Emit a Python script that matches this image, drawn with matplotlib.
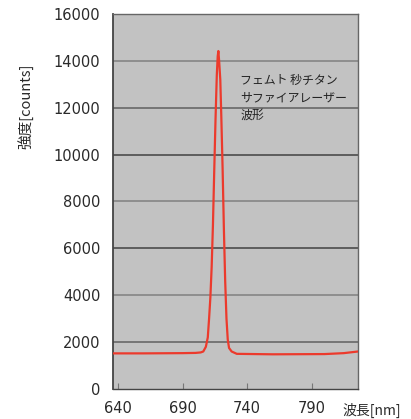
import matplotlib
matplotlib.use('Agg')
import matplotlib.pyplot as plt

plt.rcParams['font.family'] = ['DejaVu Sans', 'Noto Sans CJK JP']

# spectrum
wavelength = [636, 660, 690, 700, 704, 706, 708, 709.5, 710.5, 711.5, 712.5, 713.5,
              714.5, 715.5, 716.5, 717.2, 717.7, 718.3, 719.2, 720, 721, 722, 723,
              724, 725, 726, 728, 732, 760, 800, 815, 826]
counts = [1520, 1520, 1530, 1540, 1560, 1600, 1800, 2200, 3000, 3900, 5200, 7000,
          9300, 11500, 13400, 14200, 14420, 14000, 13200, 11600, 9400, 6800, 4600,
          3000, 2100, 1750, 1600, 1500, 1480, 1490, 1530, 1600]

x_ticks = [640, 690, 740, 790]
y_ticks = [0, 2000, 4000, 6000, 8000, 10000, 12000, 14000, 16000]
grid_colors = ['#6e6e6e', '#8a8a8a', '#555555', '#8a8a8a', '#555555', '#6e6e6e', '#8a8a8a']

fig = plt.figure(figsize=(4.11, 4.19), dpi=100)
ax = fig.add_axes([0.275, 0.0716, 0.596, 0.895])
ax.set_facecolor('#c2c2c2')

for yv, c in zip(y_ticks[1:-1], grid_colors):
    ax.axhline(yv, color=c, lw=1.3, zorder=1)

ax.plot(wavelength, counts, color='#ec3a2c', lw=1.6, zorder=3)

ax.set_xlim(636, 826)
ax.set_ylim(0, 16000)
ax.set_xticks(x_ticks)
ax.set_yticks(y_ticks)
ax.tick_params(axis='x', direction='in', length=4, color='#777777',
               labelsize=10.5, labelcolor='#2a2a2a', pad=9)
ax.tick_params(axis='y', length=0, labelsize=10.5, labelcolor='#2a2a2a', pad=9)

for s in ax.spines.values():
    s.set_color('#666666')
    s.set_linewidth(1.0)
ax.spines['left'].set_color('#444444')
ax.spines['left'].set_linewidth(1.3)
ax.spines['bottom'].set_color('#444444')

ax.text(734.6, 13450, 'フェムト 秒チタン\nサファイアレーザー\n波形',
        fontsize=8.6, color='#222222', va='top', ha='left',
        family=['Noto Sans CJK JP'], linespacing=1.45, zorder=4)

fig.text(0.061, 0.747, '強度[counts]', rotation=90, ha='center', va='center',
         fontsize=10.5, color='#2a2a2a', family=['Noto Sans CJK JP', 'DejaVu Sans'])
fig.text(0.834, 0.02, '波長[nm]', ha='left', va='center',
         fontsize=10, color='#2a2a2a', family=['Noto Sans CJK JP', 'DejaVu Sans'])

fig.savefig('out.png', dpi=100)
